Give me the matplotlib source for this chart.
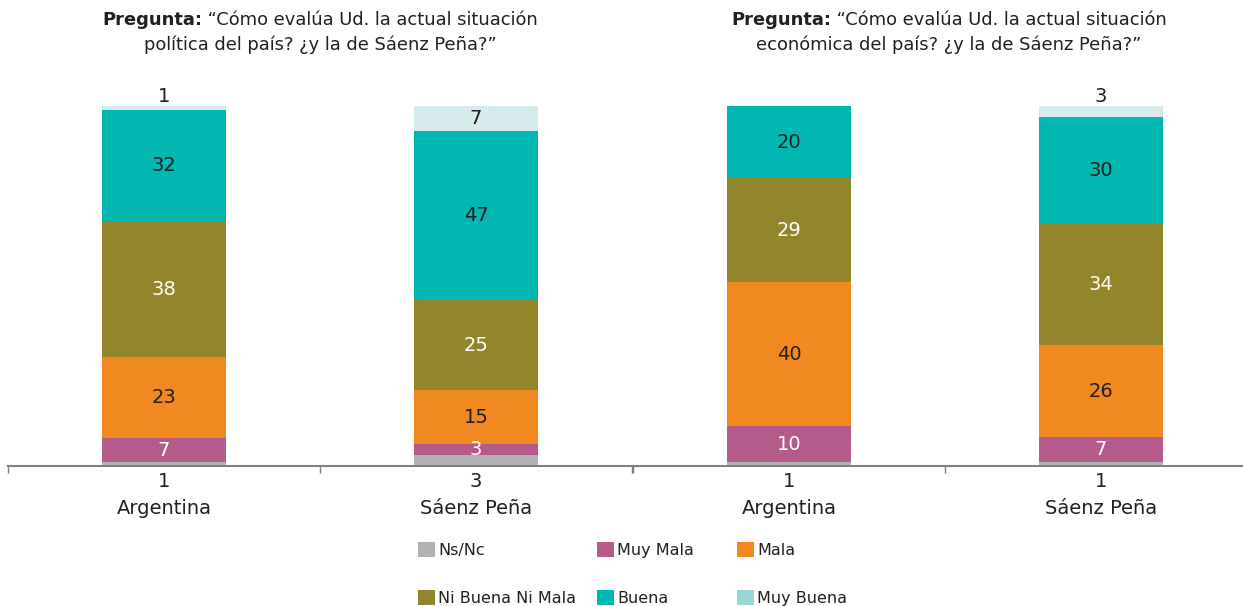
import numpy as np
import matplotlib.pyplot as plt
from matplotlib.patches import Patch

plt.rcParams['font.family'] = ['DejaVu Sans']

W, H = 1243, 606

categories = ["Argentina", "Sáenz Peña"]
series = ["Ns/Nc", "Muy Mala", "Mala", "Ni Buena Ni Mala", "Buena", "Muy Buena"]

# values per series, [Argentina, Sáenz Peña]
politica = {
    "Ns/Nc": [1, 3],
    "Muy Mala": [7, 3],
    "Mala": [23, 15],
    "Ni Buena Ni Mala": [38, 25],
    "Buena": [32, 47],
    "Muy Buena": [1, 7],
}
economica = {
    "Ns/Nc": [1, 1],
    "Muy Mala": [10, 7],
    "Mala": [40, 26],
    "Ni Buena Ni Mala": [29, 34],
    "Buena": [20, 30],
    "Muy Buena": [0, 3],
}

titles = [
    ("Pregunta:", " \u201cCómo evalúa Ud. la actual situación", "política del país? ¿y la de Sáenz Peña?\u201d"),
    ("Pregunta:", " \u201cCómo evalúa Ud. la actual situación", "económica del país? ¿y la de Sáenz Peña?\u201d"),
]

colors = {
    "Ns/Nc": "#b1b2b4",
    "Muy Mala": "#b55b8c",
    "Mala": "#f28820",
    "Ni Buena Ni Mala": "#93852b",
    "Buena": "#00b7b1",
    "Muy Buena": "#d5ebec",
}
legend_colors = dict(colors, **{"Muy Buena": "#98d6d4"})
text_colors = {
    "Muy Mala": "white",
    "Ni Buena Ni Mala": "white",
}
dark = "#231f20"

fig = plt.figure(figsize=(W / 100, H / 100), dpi=100)
ax1 = fig.add_axes([8 / W, 140 / H, 624 / W, 360 / H])
ax2 = fig.add_axes([633 / W, 140 / H, 624 / W, 360 / H])


def draw(ax, data):
    x = np.arange(len(categories))
    totals = np.sum([data[s] for s in series], axis=0)
    bottom = np.zeros(len(categories))
    for s in series:
        vals = np.array(data[s], dtype=float)
        h = vals / totals * 100
        ax.bar(x, h, 0.4, bottom=bottom, color=colors[s], zorder=2)
        for xi, v, b, hh in zip(x, vals, bottom, h):
            if v == 0:
                continue
            if s == "Ns/Nc":
                ax.annotate(f"{v:.0f}", (xi, 0), xytext=(0, -4), textcoords="offset points",
                            ha="center", va="top", fontsize=14, color=dark)
            elif s == "Muy Buena" and v < 5:
                ax.annotate(f"{v:.0f}", (xi, b + hh), xytext=(0, 0), textcoords="offset points",
                            ha="center", va="bottom", fontsize=14, color=dark)
            else:
                ax.text(xi, b + hh / 2, f"{v:.0f}", ha="center", va="center",
                        fontsize=14, color=text_colors.get(s, dark))
        bottom += h
    ax.set_xlim(-0.5, 1.5)
    ax.set_ylim(0, 100)
    ax.set_yticks([])
    ax.set_xticks(x)
    ax.set_xticklabels(categories, fontsize=14, color=dark)
    ax.set_xticks([-0.5, 0.5, 1.5], minor=True)
    ax.tick_params(axis="x", which="major", length=0, pad=24)
    ax.tick_params(axis="x", which="minor", length=5, width=1, color="#808080")
    for sp in ["top", "left", "right"]:
        ax.spines[sp].set_visible(False)
    ax.spines["bottom"].set_color("#808080")
    ax.spines["bottom"].set_linewidth(1.5)
    ax.spines["bottom"].set_zorder(3)


draw(ax1, politica)
draw(ax2, economica)

# titles with bold "Pregunta:"
fig.canvas.draw()
renderer = fig.canvas.get_renderer()
for (bold, rest, line2), cx in zip(titles, [320, 949]):
    tb = fig.text(0, 1 - 20 / H, bold, fontsize=12.9, fontweight="bold", color=dark, va="center")
    tr = fig.text(0, 1 - 20 / H, rest, fontsize=12.9, color=dark, va="center")
    wb = tb.get_window_extent(renderer).width
    wr = tr.get_window_extent(renderer).width
    x0 = cx - (wb + wr) / 2
    tb.set_x(x0 / W)
    tr.set_x((x0 + wb) / W)
    fig.text(cx / W, 1 - 45 / H, line2, fontsize=12.9, color=dark, ha="center", va="center")

# legend, three columns
cols = [["Ns/Nc", "Ni Buena Ni Mala"], ["Muy Mala", "Buena"], ["Mala", "Muy Buena"]]
for names, lx in zip(cols, [418, 597, 737]):
    handles = [Patch(facecolor=legend_colors[n], edgecolor="none") for n in names]
    leg = fig.legend(handles, names, loc="upper left", bbox_to_anchor=(lx / W, 1 - 542 / H),
                     frameon=False, fontsize=11.5, handlelength=1.05, handleheight=1.05,
                     handletextpad=0.2, borderpad=0, borderaxespad=0, labelspacing=2.0)
    for t in leg.get_texts():
        t.set_color(dark)

fig.savefig("out.png", dpi=100)
